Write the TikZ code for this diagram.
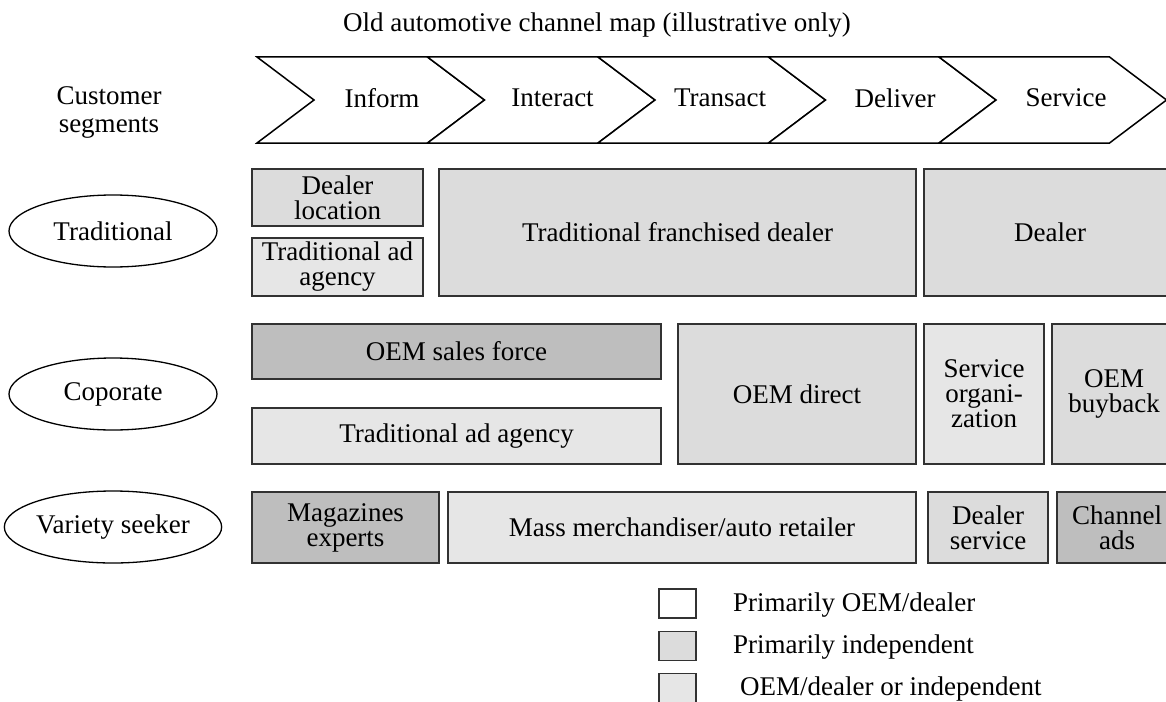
\documentclass[tikz,border=0pt]{standalone}
\usepackage{fontspec}
\setmainfont{Liberation Serif}
\usepackage{tikz}
\usetikzlibrary{shapes.geometric, positioning}

\definecolor{darkfill}{RGB}{190, 190, 190}
\definecolor{midfill}{RGB}{220, 220, 220}
\definecolor{lightfill}{RGB}{230, 230, 230}
\definecolor{boxline}{RGB}{50, 50, 50}

\newcommand{\chanfont}{\fontsize{27}{25}\selectfont}

\tikzset{
  chanbox/.style={draw=boxline, line width=1.6pt, inner sep=0pt, align=center, font=\chanfont},
  segment/.style={draw, ellipse, line width=1.3pt, minimum width=208pt, minimum height=72pt, inner sep=0pt, font=\chanfont},
  legbox/.style={draw=boxline, line width=1.4pt, minimum width=37pt, minimum height=29pt, inner sep=0pt},
  chevron/.style={draw, line width=1.5pt, fill=white},
}

\begin{document}
\begin{tikzpicture}[x=1pt, y=-1pt]
  \useasboundingbox (0,0) rectangle (1166,701);
  \clip (0,0) rectangle (1166,701);

  \node[font=\chanfont] (title) at (597, 25) {Old automotive channel map (illustrative only)};

  \node[align=center, font=\fontsize{27}{28}\selectfont] (segs) at (109, 112) {Customer\\segments};

  % Value chain steps
  \draw[chevron] (257,57) -- (427.5,57) -- (484.5,100) -- (427.5,143) -- (257,143) -- (314,100) -- cycle;
  \draw[chevron] (427.5,57) -- (598,57) -- (655,100) -- (598,143) -- (427.5,143) -- (484.5,100) -- cycle;
  \draw[chevron] (598,57) -- (768.5,57) -- (825.5,100) -- (768.5,143) -- (598,143) -- (655,100) -- cycle;
  \draw[chevron] (768.5,57) -- (939,57) -- (996,100) -- (939,143) -- (768.5,143) -- (825.5,100) -- cycle;
  \draw[chevron] (939,57) -- (1109.5,57) -- (1166.5,100) -- (1109.5,143) -- (939,143) -- (996,100) -- cycle;

  \node[font=\chanfont] (inform) at (382, 98) {Inform};
  \node[font=\chanfont] (interact) at (552.5, 98) {Interact};
  \node[font=\chanfont] (transact) at (720, 98) {Transact};
  \node[font=\chanfont] (deliver) at (895, 98) {Deliver};
  \node[font=\chanfont] (service) at (1066, 98) {Service};

  % Segments
  \node[segment] (trad) at (113, 231) {Traditional};
  \node[segment] (corp) at (113, 394) {Coporate};
  \node[segment] (variety) at (113, 527) {Variety seeker};

  % Traditional row
  \node[chanbox, fill=midfill, minimum width=171pt, minimum height=57pt] (dealerloc) at (337.5, 197.5) {Dealer\\location};
  \node[chanbox, fill=lightfill, minimum width=171pt, minimum height=58pt] (tradadsmall) at (337.5, 267) {Traditional ad\\agency};
  \node[chanbox, fill=midfill, minimum width=477pt, minimum height=127pt] (franchise) at (677.5, 232.5) {Traditional franchised dealer};
  \node[chanbox, fill=midfill, minimum width=252pt, minimum height=127pt] (dealer) at (1050, 232.5) {Dealer};

  % Corporate row
  \node[chanbox, fill=darkfill, minimum width=409pt, minimum height=55pt] (salesforce) at (456.5, 351.5) {OEM sales force};
  \node[chanbox, fill=lightfill, minimum width=409pt, minimum height=56pt] (tradadwide) at (456.5, 436) {Traditional ad agency};
  \node[chanbox, fill=midfill, minimum width=238pt, minimum height=140pt] (oemdirect) at (797, 394) {OEM direct};
  \node[chanbox, fill=lightfill, minimum width=120pt, minimum height=140pt] (serviceorg) at (984, 394) {Service\\organi-\\zation};
  \node[chanbox, fill=midfill, minimum width=124pt, minimum height=140pt] (buyback) at (1114, 394) {OEM\\buyback};

  % Variety seeker row
  \node[chanbox, fill=darkfill, minimum width=187pt, minimum height=71pt] (magazines) at (345.5, 527.5) {Magazines\\experts};
  \node[chanbox, fill=lightfill, minimum width=468pt, minimum height=71pt] (massmerch) at (682, 527.5) {Mass merchandiser/auto retailer};
  \node[chanbox, fill=midfill, minimum width=120pt, minimum height=71pt] (dealerserv) at (988, 527.5) {Dealer\\service};
  \node[chanbox, fill=darkfill, minimum width=120pt, minimum height=71pt] (chanads) at (1117, 527.5) {Channel\\ads};

  % Legend
  \node[legbox, fill=white] (legoem) at (677.5, 603.5) {};
  \node[legbox, fill=midfill] (legindep) at (677.5, 646) {};
  \node[legbox, fill=lightfill] (legeither) at (677.5, 688) {};
  \node[anchor=base west, font=\chanfont, inner sep=0pt] (txtoem) at (733, 611) {Primarily OEM/dealer};
  \node[anchor=base west, font=\chanfont, inner sep=0pt] (txtindep) at (733, 653) {Primarily independent};
  \node[anchor=base west, font=\chanfont, inner sep=0pt] (txteither) at (740, 695) {OEM/dealer or independent};
\end{tikzpicture}
\end{document}
